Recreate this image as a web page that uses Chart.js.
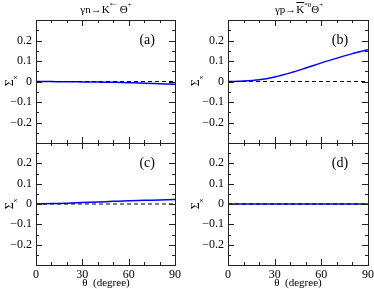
<!DOCTYPE html>
<html>
<head>
<meta charset="utf-8">
<script src="https://cdn.jsdelivr.net/npm/chart.js@4.4.0/dist/chart.umd.min.js"></script>
<style>
body { margin: 0; background: #fff; }
#fig { position: relative; width: 374px; height: 289px; font-family: "Liberation Serif", serif; color: #000; overflow: hidden; }
#fig canvas { position: absolute; left: 0; top: 0; }
.txt { position: absolute; white-space: nowrap; line-height: 1; }
.title { top: 3px; font-size: 11px; transform: translateX(-50%); }
.title sup { font-size: 7px; position: relative; top: -1px; }
.ylab { font-size: 12px; transform: translate(-50%, -50%) rotate(-90deg); }
.ylab sub { font-size: 7px; }
.xlab { top: 277px; font-size: 11px; transform: translateX(-50%); }
.over { text-decoration: overline; }
</style>
</head>
<body>
<div id="fig">
  <canvas id="pa" width="374" height="289"></canvas>
  <canvas id="pb" width="374" height="289"></canvas>
  <canvas id="pc" width="374" height="289"></canvas>
  <canvas id="pd" width="374" height="289"></canvas>

  <div class="txt title" style="left:106px">&gamma;n&rarr;K<sup>*&minus;</sup>&nbsp;&Theta;<sup>+</sup></div>
  <div class="txt title" style="left:299px">&gamma;p&rarr;<span class="over">K</span><sup>*0</sup>&Theta;<sup>+</sup></div>

  <div class="txt ylab" style="left:11px; top:81px">&Sigma;<sub>x</sub></div>
  <div class="txt ylab" style="left:197px; top:81px">&Sigma;<sub>x</sub></div>
  <div class="txt ylab" style="left:11px; top:204px">&Sigma;<sub>x</sub></div>
  <div class="txt ylab" style="left:197px; top:204px">&Sigma;<sub>x</sub></div>

  <div class="txt xlab" style="left:106px">&theta;&nbsp; (degree)</div>
  <div class="txt xlab" style="left:298px">&theta;&nbsp; (degree)</div>
</div>

<script>
// values
var angles = [0, 10, 20, 30, 40, 50, 60, 70, 80, 90];
var sigmaA = [0, -0.0005, -0.001, -0.002, -0.003, -0.004, -0.006, -0.008, -0.011, -0.014];
var sigmaB = [0, 0.002, 0.008, 0.022, 0.042, 0.066, 0.091, 0.114, 0.136, 0.155];
var sigmaC = [0, 0.002, 0.004, 0.007, 0.010, 0.013, 0.016, 0.018, 0.020, 0.022];
var sigmaD = [0, 0, 0, 0, 0, 0, 0, 0, 0, 0];
var panelNames = ['(a)', '(b)', '(c)', '(d)'];
var xTicks = [0, 30, 60, 90];
var yTicks = [-0.3, -0.2, -0.1, 0, 0.1, 0.2, 0.3];

var FONT = "'Liberation Serif', serif";
var Y_W = 36, X_H = 20;

function fmtY(v) {
    if (Math.abs(v) > 0.25) return '';
    if (Math.abs(v) < 1e-9) return '0';
    var s = Math.abs(v).toFixed(1);
    return v < 0 ? '\u2212' + s : s;
}

// frame, inward ticks on all four sides, panel letter
var frameTicks = {
    id: 'frameTicks',
    afterDraw: function(chart) {
        var ctx = chart.ctx;
        var a = chart.chartArea;
        var xs = chart.scales.x, ys = chart.scales.y;
        ctx.save();
        ctx.strokeStyle = '#222';
        ctx.lineWidth = 1;
        ctx.strokeRect(Math.round(a.left) + 0.5, Math.round(a.top) + 0.5, Math.round(a.right - a.left), Math.round(a.bottom - a.top));
        ctx.beginPath();
        var i, p, len;
        for (i = 0; i <= 90; i += 10) {
            p = Math.round(xs.getPixelForValue(i)) + 0.5;
            len = (i % 30 === 0) ? 6 : 3;
            ctx.moveTo(p, a.bottom); ctx.lineTo(p, a.bottom - len);
            ctx.moveTo(p, a.top); ctx.lineTo(p, a.top + len);
        }
        for (i = -6; i <= 6; i++) {
            p = Math.round(ys.getPixelForValue(i * 0.05)) + 0.5;
            len = (i % 2 === 0) ? 6 : 3;
            ctx.moveTo(a.left, p); ctx.lineTo(a.left + len, p);
            ctx.moveTo(a.right, p); ctx.lineTo(a.right - len, p);
        }
        ctx.stroke();
        var lab = chart.options.plugins.frameTicks.label;
        ctx.fillStyle = '#000';
        ctx.font = '14px ' + FONT;
        ctx.textAlign = 'center';
        ctx.textBaseline = 'middle';
        ctx.fillText(lab, xs.getPixelForValue(72), ys.getPixelForValue(0.2));
        ctx.restore();
    }
};

function fixFit(scale) {
    if (scale.isHorizontal()) scale.height = X_H; else scale.width = Y_W;
    scale.paddingLeft = 0; scale.paddingRight = 0;
    scale.paddingTop = 0; scale.paddingBottom = 0;
}

function makePanel(id, values, label, box, showX) {
    var curve = angles.map(function(a, i) { return { x: a, y: values[i] }; });
    var zero = [{ x: angles[0], y: 0 }, { x: angles[angles.length - 1], y: 0 }];
    return new Chart(document.getElementById(id), {
        type: 'line',
        data: {
            datasets: [
                { data: zero, borderColor: '#000', borderWidth: 1, borderDash: [4, 3], pointRadius: 0, fill: false, order: 1 },
                { data: curve, borderColor: '#0000ff', borderWidth: 1.5, pointRadius: 0, fill: false, cubicInterpolationMode: 'monotone', order: 2 }
            ]
        },
        options: {
            responsive: false,
            animation: false,
            events: [],
            layout: { padding: { left: box[0] - Y_W, top: box[1], right: 374 - box[2], bottom: 289 - box[3] - X_H } },
            plugins: {
                legend: { display: false },
                tooltip: { enabled: false },
                frameTicks: { label: label }
            },
            scales: {
                x: {
                    type: 'linear', min: 0, max: 90,
                    grid: { display: false, drawTicks: false },
                    border: { display: false },
                    afterFit: fixFit,
                    afterBuildTicks: function(s) { s.ticks = xTicks.map(function(v) { return { value: v }; }); },
                    ticks: {
                        display: showX, padding: 3, maxRotation: 0, autoSkip: false, color: '#000',
                        font: { family: FONT, size: 12 },
                        callback: function(v) { return String(v); }
                    }
                },
                y: {
                    type: 'linear', min: -0.3, max: 0.3,
                    grid: { display: false, drawTicks: false },
                    border: { display: false },
                    afterFit: fixFit,
                    afterBuildTicks: function(s) { s.ticks = yTicks.map(function(v) { return { value: v }; }); },
                    ticks: {
                        padding: 4, autoSkip: false, color: '#000',
                        font: { family: FONT, size: 12 },
                        callback: function(v) { return fmtY(v); }
                    }
                }
            }
        },
        plugins: [frameTicks]
    });
}

function drawAll() {
    makePanel('pa', sigmaA, panelNames[0], [36, 20, 175, 143], false);
    makePanel('pb', sigmaB, panelNames[1], [228, 20, 368, 143], false);
    makePanel('pc', sigmaC, panelNames[2], [36, 143, 175, 265], true);
    makePanel('pd', sigmaD, panelNames[3], [228, 143, 368, 265], true);
}

if (document.fonts && document.fonts.load) {
    document.fonts.load("12px 'Liberation Serif'").then(drawAll, drawAll);
} else {
    drawAll();
}
</script>
</body>
</html>
